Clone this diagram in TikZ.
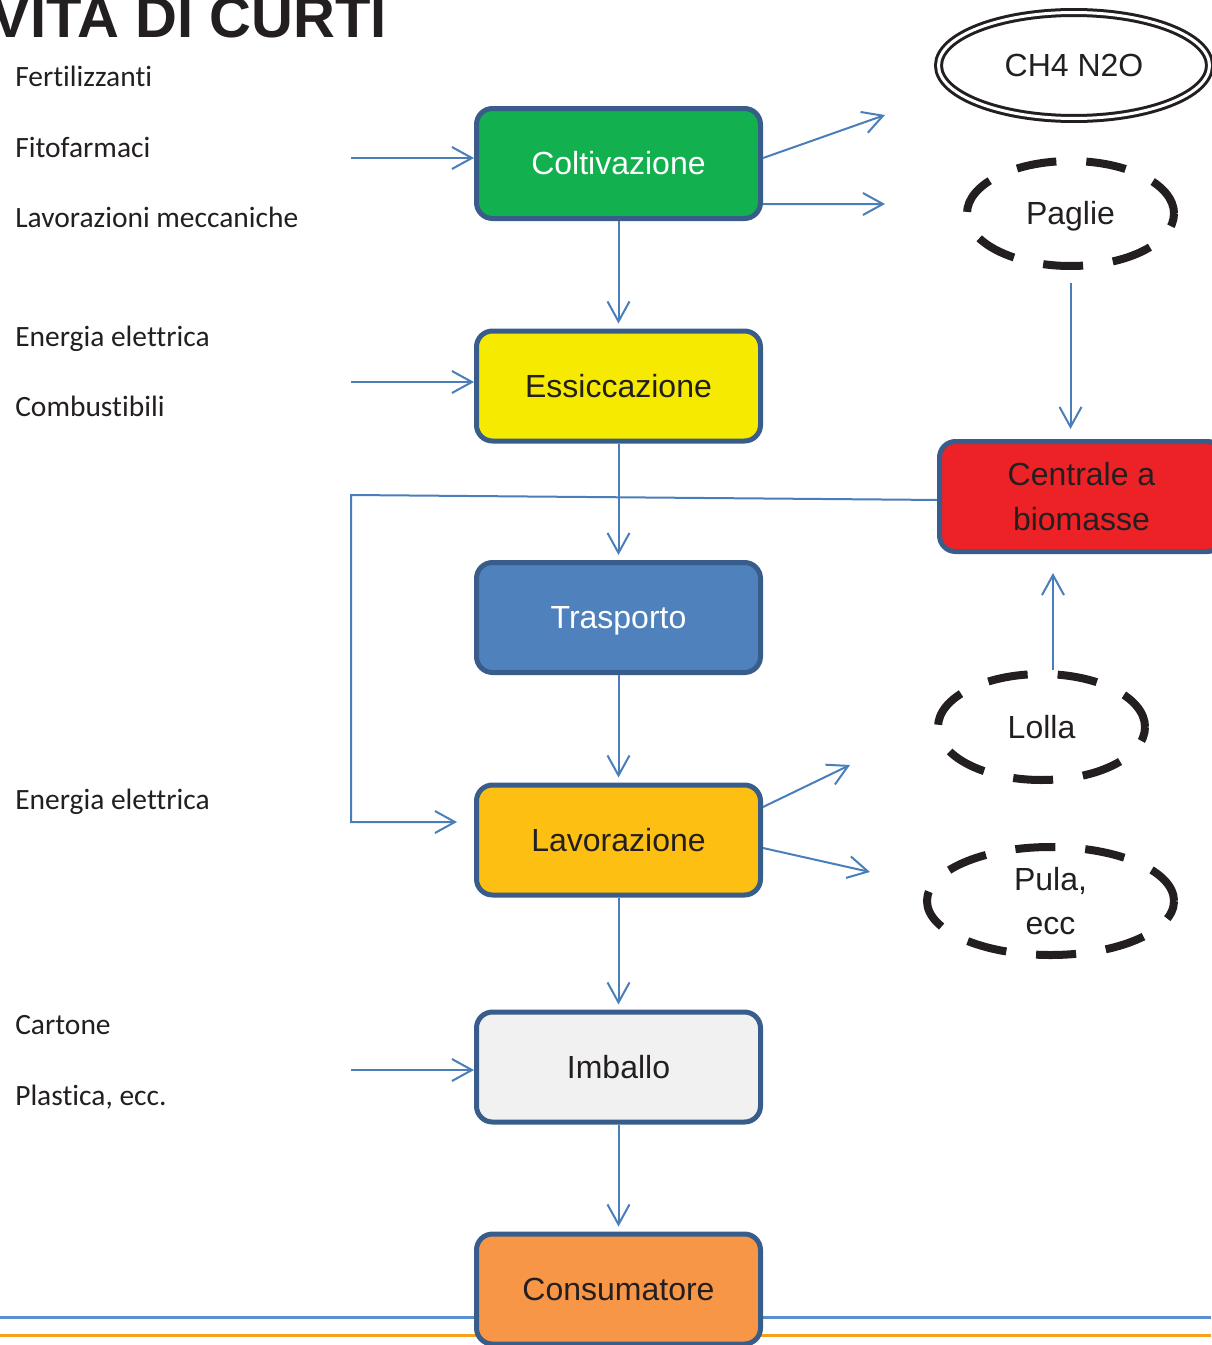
\documentclass[tikz,border=0pt]{standalone}
\usepackage{fontspec}
\setmainfont{Liberation Sans}
\newfontfamily\carlito[Ligatures={NoCommon}]{Carlito}
\usetikzlibrary{arrows.meta,shapes.geometric}
\definecolor{ink}{HTML}{231F20}
\definecolor{bord}{HTML}{385D8A}
\definecolor{arrblue}{HTML}{4A7EBB}
\definecolor{cgreen}{HTML}{12B04F}
\definecolor{cyellow}{HTML}{F5EA00}
\definecolor{cblue}{HTML}{4F81BD}
\definecolor{camber}{HTML}{FCBF12}
\definecolor{cgray}{HTML}{F1F1F1}
\definecolor{corange}{HTML}{F79646}
\definecolor{cred}{HTML}{EC2227}
\definecolor{rulblue}{HTML}{5B8ED0}
\definecolor{rulorange}{HTML}{F7A21B}
\begin{document}
\begin{tikzpicture}[x=0.75pt,y=-0.75pt,
  stagebox/.style={draw=bord, line width=3.75pt, rounded corners=12pt,
    minimum width=213pt, minimum height=82.5pt, inner sep=0pt,
    font=\fontsize{24}{33.75}\selectfont, text=ink, align=center},
  oneline/.style={text height=17.2pt, text depth=0pt},
  dashell/.style={ellipse, draw=ink, line width=6pt, dash pattern=on 30pt off 22.5pt,
    inner sep=0pt, font=\fontsize{24}{33}\selectfont, text=ink, align=center},
  arr/.style={draw=arrblue, line width=1.5pt, -{Straight Barb[length=15pt,width=16.5pt]}},
  inlab/.style={anchor=base west, font=\carlito\fontsize{22.1}{26}\selectfont, text=ink, inner sep=0pt}
]
\useasboundingbox (0,0) rectangle (1211,1345);

% bottom rules
\draw[line width=2.25pt, rulblue] (0,1317) -- (1211,1317);
\draw[line width=2.25pt, rulorange] (0,1335) -- (1211,1335);

% title
\node (title) [anchor=base east, inner sep=0pt, text=ink, font=\bfseries\fontsize{43.5}{50}\selectfont] at (387,38) {VITA DI CURTI};

% left input labels
\node (t1) [inlab] at (15,87) {Fertilizzanti};
\node (t2) [inlab] at (15,157) {Fitofarmaci};
\node (t3) [inlab] at (15,227) {Lavorazioni meccaniche};
\node (t4) [inlab] at (15,346) {Energia elettrica};
\node (t5) [inlab] at (15,416) {Combustibili};
\node (t6) [inlab] at (15,809) {Energia elettrica};
\node (t7) [inlab] at (15,1034) {Cartone};
\node (t8) [inlab] at (15,1105) {Plastica, ecc.};

% main stages
\node (colt) [stagebox, oneline, fill=cgreen, text=white] at (618.5,163.5) {Coltivazione};
\node (essi) [stagebox, oneline, fill=cyellow] at (618.5,386) {Essiccazione};
\node (tras) [stagebox, oneline, fill=cblue, text=white] at (618.5,617.5) {Trasporto};
\node (lav)  [stagebox, oneline, fill=camber] at (618.5,840) {Lavorazione};
\node (imb)  [stagebox, oneline, fill=cgray] at (618.5,1067) {Imballo};
\node (cons) [stagebox, oneline, fill=corange] at (618.5,1289) {Consumatore};
\node (cen)  [stagebox, fill=cred] at (1081.5,496.5) {Centrale a\\biomasse};

% outputs
\node (ch4) [ellipse, draw=ink, line width=2.25pt, double=white, double distance=2.25pt,
  minimum width=203.25pt, minimum height=79.5pt, inner sep=0pt, text=ink,
  font=\fontsize{24}{33}\selectfont, text height=17.2pt, text depth=0pt] at (1074,65.5) {CH4 N2O};
\node (pag) [dashell, minimum width=155.25pt, minimum height=78.75pt, text height=17.2pt, text depth=0pt] at (1070.5,213.5) {Paglie};
\node (lol) [dashell, minimum width=155.25pt, minimum height=79.5pt, text height=17.2pt, text depth=0pt] at (1041.5,727) {Lolla};
\node (pul) [dashell, minimum width=185.25pt, minimum height=81pt] at (1050.5,901) {Pula,\\ecc};

% free ends
\coordinate (fa) at (351,158);
\coordinate (ea) at (351,382);
\coordinate (ca) at (351,1070);
\coordinate (o1) at (885,115);
\coordinate (o2) at (885,204);
\coordinate (o3) at (850,765);
\coordinate (o4) at (870,872);
\coordinate (k1) at (351,495);
\coordinate (k2) at (351,822);
\coordinate (k3) at (457,822);

% inputs
\draw[arr] (fa) -- (fa -| colt.west);
\draw[arr] (ea) -- (ea -| essi.west);
\draw[arr] (ca) -- (ca -| imb.west);

% main flow
\draw[arr, shorten >=3.75pt] (colt.south) -- (essi.north);
\draw[arr, shorten >=3.75pt] (essi.south) -- (tras.north);
\draw[arr, shorten >=3.75pt] (tras.south) -- (lav.north);
\draw[arr, shorten >=3.75pt] (lav.south) -- (imb.north);
\draw[arr, shorten >=3.75pt] (imb.south) -- (cons.north);

% by-products
\draw[arr] ([yshift=4.1pt]colt.east) -- (o1);
\draw[arr] ([yshift=-30.4pt]colt.east) -- (o2);
\draw[arr] ([yshift=24.75pt]lav.east) -- (o3);
\draw[arr] ([yshift=-6pt]lav.east) -- (o4);

% to power plant
\draw[arr, shorten <=9.75pt, shorten >=7.5pt] (pag.south) -- (pag.south |- cen.north);
\draw[arr, shorten >=14.25pt] ([xshift=8.6pt]lol.north) -- ([xshift=8.6pt]lol.north |- cen.south);

% energy back to processing
\draw[arr] ([yshift=-2.6pt]cen.west) -- (k1) -- (k2) -- (k3);
\end{tikzpicture}
\end{document}
